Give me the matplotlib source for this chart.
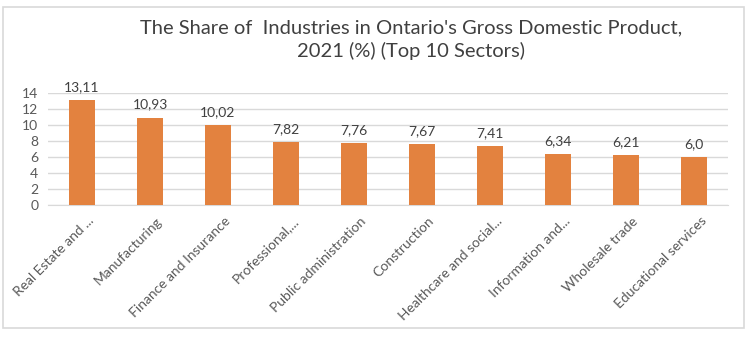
import matplotlib
matplotlib.use("Agg")
import matplotlib.pyplot as plt
import matplotlib.transforms as mtransforms
from matplotlib.patches import Rectangle

sectors = [
    "Real Estate and ...",
    "Manufacturing",
    "Finance and Insurance",
    "Professional,...",
    "Public administration",
    "Construction",
    "Healthcare and social...",
    "Information and...",
    "Wholesale trade",
    "Educational services",
]
shares = [13.11, 10.93, 10.02, 7.82, 7.76, 7.67, 7.41, 6.34, 6.21, 6.0]
value_labels = ["13,11", "10,93", "10,02", "7,82", "7,76", "7,67", "7,41", "6,34", "6,21", "6,0"]
y_ticks = [0, 2, 4, 6, 8, 10, 12, 14]

plt.rcParams["font.family"] = ["Lato", "DejaVu Sans"]
W, H = 754, 340
fig = plt.figure(figsize=(W / 100, H / 100), dpi=100)
fig.patch.set_facecolor("white")

# chart border
fig.patches.append(Rectangle((3 / W, 1 - 328 / H), (744 - 3) / W, (328 - 7) / H,
                             transform=fig.transFigure, fill=False,
                             edgecolor="#d9d9d9", linewidth=1.2))

ax = fig.add_axes([48 / W, 1 - 205 / H, (728 - 48) / W, (205 - 93) / H])
x = list(range(len(sectors)))
ax.bar(x, shares, width=0.39, color="#E3823F", zorder=3)
ax.set_xlim(-0.5, len(sectors) - 0.5)
ax.set_ylim(0, 14)
ax.set_yticks(y_ticks)
ax.set_yticklabels([str(t) for t in y_ticks], fontsize=10, color="#595959")
ax.yaxis.grid(True, color="#d9d9d9", linewidth=1, zorder=0)
ax.tick_params(axis="both", length=0)
ax.tick_params(axis="y", pad=7)
for s in ["top", "right", "left"]:
    ax.spines[s].set_visible(False)
ax.spines["bottom"].set_color("#d9d9d9")

ax.set_xticks(x)
ax.set_xticklabels(sectors, rotation=45, ha="right", rotation_mode="anchor",
                   fontsize=10, color="#595959")
ax.tick_params(axis="x", pad=7)
shift = mtransforms.ScaledTranslation(6 / 100, 0, fig.dpi_scale_trans)
for lbl in ax.get_xticklabels():
    lbl.set_transform(lbl.get_transform() + shift)

for xi, v, lab in zip(x, shares, value_labels):
    ax.annotate(lab, (xi, v), xytext=(0, 5), textcoords="offset points",
                ha="center", va="bottom", fontsize=10, color="#404040",
                annotation_clip=False)

fig.text(0.545, 1 - 28 / H, "The Share of  Industries in Ontario's Gross Domestic Product,",
         ha="center", va="center", fontsize=14.5, color="#404040")
fig.text(0.545, 1 - 51 / H, "2021 (%) (Top 10 Sectors)",
         ha="center", va="center", fontsize=14.5, color="#404040")

fig.savefig("out.png", dpi=100, facecolor="white")
